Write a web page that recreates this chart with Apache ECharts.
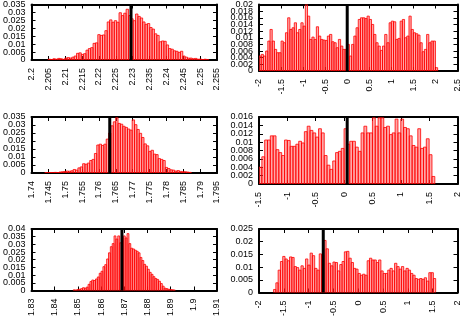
<!DOCTYPE html>
<html><head><meta charset="utf-8">
<script src="https://cdn.jsdelivr.net/npm/echarts@6/dist/echarts.min.js"></script>
<style>html,body{margin:0;padding:0;background:#fff}#c{width:462px;height:319px}</style>
</head><body><div id="c"></div>
<script>
// ---- data (histogram heights) ----
const p1Start = 2.2053, p1Bin = 0.0007;
const p1Heights = [0.0005,0.0003,0.0008,0.0005,0.001,0.0008,0.0004,0.0012,0.0015,0.0012,0.0018,0.0025,0.0042,0.0045,0.0035,0.004,0.0062,0.0072,0.0078,0.0105,0.0108,0.016,0.0155,0.0158,0.0185,0.024,0.0253,0.0238,0.0248,0.0238,0.0298,0.028,0.0295,0.032,0.028,0.026,0.0248,0.029,0.0275,0.0265,0.024,0.0225,0.023,0.0205,0.0195,0.0165,0.0155,0.0115,0.012,0.0118,0.0095,0.0072,0.0068,0.0058,0.0055,0.0048,0.0055,0.0025,0.0018,0.0012,0.0012,0.0008,0.001,0.0005,0.0006,0.0003,0.0005,0.0002];
const p1Marker = 2.2295;

const p2Start = -1.975, p2Bin = 0.05;
const p2Heights = [0.0045,0.005,0.0045,0.006,0.009,0.0125,0.009,0.0065,0.0055,0.0055,0.009,0.0085,0.0115,0.016,0.0125,0.013,0.0145,0.0115,0.0125,0.0145,0.0135,0.02,0.0165,0.0095,0.0102,0.0095,0.0133,0.0105,0.0095,0.0093,0.0092,0.0105,0.011,0.0088,0.0085,0.007,0.0095,0.0075,0.0065,0.0065,0.008,0.0045,0.008,0.0105,0.013,0.0155,0.016,0.016,0.0158,0.0165,0.0155,0.014,0.011,0.0085,0.0075,0.0062,0.0075,0.011,0.0085,0.0145,0.015,0.0148,0.0095,0.0098,0.015,0.0155,0.01,0.0105,0.0165,0.0125,0.0115,0.0112,0.0108,0.0085,0.0058,0.0065,0.011,0.0085,0.009,0.009,0.001];
const p2Marker = 0.0;

const p3Start = 1.7443, p3Bin = 0.0007;
const p3Heights = [0.0002,0.0002,0.0003,0.0002,0.0004,0.0003,0.0006,0.0008,0.0009,0.0012,0.0011,0.0014,0.0022,0.0018,0.0032,0.0038,0.0058,0.0055,0.0062,0.0078,0.0085,0.0122,0.0175,0.018,0.0172,0.018,0.0212,0.025,0.0295,0.032,0.0345,0.031,0.0305,0.0292,0.0285,0.0275,0.0268,0.0332,0.0302,0.0272,0.0248,0.0222,0.0182,0.017,0.0135,0.0142,0.0118,0.0115,0.009,0.0085,0.0078,0.0035,0.0028,0.002,0.0018,0.0012,0.0015,0.001,0.0008,0.0008,0.0006,0.0004];
const p3Marker = 1.7632;

const p4Start = -1.475, p4Bin = 0.05;
const p4Heights = [0.004,0.0065,0.0105,0.0105,0.0115,0.0115,0.0082,0.0075,0.0068,0.0105,0.0104,0.009,0.009,0.0095,0.0102,0.0098,0.0125,0.0138,0.0128,0.0122,0.0112,0.0132,0.0122,0.0068,0.0045,0.0035,0.0055,0.0075,0.0078,0.0085,0.0132,0.0095,0.0102,0.0102,0.0088,0.0078,0.0122,0.0138,0.0122,0.0122,0.0158,0.0138,0.0158,0.0158,0.0135,0.0138,0.0118,0.0122,0.0155,0.0122,0.0155,0.0135,0.0132,0.0115,0.0092,0.0088,0.0132,0.0085,0.0088,0.0108,0.007,0.0018];
const p4Marker = 0.055;

const p5Start = 1.8484, p5Bin = 0.0008;
const p5Heights = [0.0004,0.0003,0.0006,0.0008,0.0012,0.0018,0.0015,0.0022,0.004,0.0058,0.0068,0.0065,0.0075,0.0088,0.0112,0.0125,0.0155,0.0168,0.0205,0.0245,0.0285,0.0305,0.0355,0.0335,0.0355,0.031,0.0345,0.0355,0.0342,0.037,0.0305,0.0275,0.027,0.0262,0.0255,0.0245,0.0215,0.0195,0.017,0.0158,0.0138,0.0118,0.0105,0.009,0.0078,0.0072,0.006,0.0045,0.0028,0.0015,0.0012,0.0008,0.0006,0.0005,0.0003];
const p5Marker = 1.869;

const p6Start = -1.683, p6Bin = 0.046;
const p6Heights = [0.0012,0.0038,0.0088,0.0122,0.0142,0.0132,0.0125,0.014,0.0138,0.0102,0.0098,0.0088,0.0105,0.0095,0.0132,0.0108,0.0155,0.0145,0.0095,0.0088,0.0152,0.0148,0.0205,0.0172,0.0115,0.0105,0.012,0.0118,0.0085,0.011,0.0122,0.016,0.0162,0.0135,0.0118,0.0095,0.0092,0.0075,0.0068,0.0072,0.0068,0.0125,0.0135,0.0128,0.0128,0.0118,0.0128,0.0085,0.0075,0.0075,0.0088,0.0095,0.0085,0.0115,0.0102,0.0092,0.0102,0.0085,0.0095,0.0088,0.0075,0.0068,0.0055,0.0052,0.0055,0.0052,0.0058,0.0045,0.0078,0.0078,0.0055];
const p6Marker = -0.705;

// axis ranges and tick steps
const xMins = [2.2, -2, 1.74, -1.5, 1.83, -2];
const xMaxs = [2.255, 2.5, 1.795, 2, 1.91, 2];
const xSteps = [0.005, 0.5, 0.005, 0.5, 0.01, 0.5];
const yMaxs = [0.035, 0.02, 0.035, 0.016, 0.04, 0.025];
const ySteps = [0.005, 0.002, 0.005, 0.002, 0.005, 0.005];

// ---- layout ----
const grids = [
  {left: 29, top: 3, width: 188, height: 57},
  {left: 259, top: 3, width: 200, height: 68},
  {left: 29, top: 117, width: 188, height: 56},
  {left: 259, top: 117, width: 200, height: 67},
  {left: 29, top: 229, width: 188, height: 62},
  {left: 259, top: 229, width: 200, height: 67}
];
const hists = [
  [p1Start, p1Bin, p1Heights, p1Marker],
  [p2Start, p2Bin, p2Heights, p2Marker],
  [p3Start, p3Bin, p3Heights, p3Marker],
  [p4Start, p4Bin, p4Heights, p4Marker],
  [p5Start, p5Bin, p5Heights, p5Marker],
  [p6Start, p6Bin, p6Heights, p6Marker]
];

const FONT = 'Liberation Sans';
const lineStyle = {color: '#000', width: 2};
const tickStyle = {show: true, inside: true, length: 4, lineStyle: {color: '#000', width: 1}};
const xAxis = [], yAxis = [], series = [];
grids.forEach((g, k) => {
  const common = {min: xMins[k], max: xMaxs[k], interval: xSteps[k], gridIndex: k, type: 'value',
    splitLine: {show: false}};
  const xlab = parity => ({rotate: 90, fontSize: 9, fontFamily: FONT, color: '#000', margin: 8,
    formatter: (v, i) => (i % 2 === parity ? String(v) : '')});
  // bottom axis: frame, ticks, even labels
  xAxis.push(Object.assign({}, common, {position: 'bottom',
    axisLine: {show: true, onZero: false, lineStyle}, axisTick: tickStyle, axisLabel: xlab(0)}));
  // bottom axis: odd labels only
  xAxis.push(Object.assign({}, common, {position: 'bottom',
    axisLine: {show: false}, axisTick: {show: false}, axisLabel: xlab(1)}));
  // top mirror axis
  xAxis.push(Object.assign({}, common, {position: 'top',
    axisLine: {show: true, onZero: false, lineStyle}, axisTick: tickStyle, axisLabel: {show: false}}));

  const ycommon = {min: 0, max: yMaxs[k], interval: ySteps[k], gridIndex: k, type: 'value',
    splitLine: {show: false}};
  const ylab = parity => ({fontSize: 9, fontFamily: FONT, color: '#000', margin: 6,
    formatter: (v, i) => (i % 2 === parity ? String(v) : '')});
  // left axis: frame, ticks, even labels
  yAxis.push(Object.assign({}, ycommon, {position: 'left',
    axisLine: {show: true, onZero: false, lineStyle}, axisTick: tickStyle, axisLabel: ylab(0)}));
  // left axis: odd labels only
  yAxis.push(Object.assign({}, ycommon, {position: 'left',
    axisLine: {show: false}, axisTick: {show: false}, axisLabel: ylab(1)}));
  // right mirror axis
  yAxis.push(Object.assign({}, ycommon, {position: 'right',
    axisLine: {show: true, onZero: false, lineStyle}, axisTick: tickStyle, axisLabel: {show: false}}));

  const [start, bw, heights, marker] = hists[k];
  const data = heights.map((h, i) => [start + i * bw, h]);
  series.push({
    type: 'custom', xAxisIndex: 3 * k, yAxisIndex: 3 * k, silent: true, clip: true,
    data,
    renderItem: (params, api) => {
      const x = api.value(0), y = api.value(1);
      const p0 = api.coord([x - bw / 2, y]);
      const p1 = api.coord([x + bw / 2, 0]);
      return {type: 'rect', shape: {x: p0[0], y: p0[1], width: p1[0] - p0[0], height: p1[1] - p0[1]},
        style: {fill: 'rgba(255,60,60,0.45)', stroke: '#ff0000', lineWidth: 0.8}};
    }
  });
  series.push({
    type: 'line', xAxisIndex: 3 * k, yAxisIndex: 3 * k, silent: true, symbol: 'none',
    data: [[marker, 0], [marker, yMaxs[k]]],
    lineStyle: {color: '#000', width: 3}, z: 5
  });
});

const chart = echarts.init(document.getElementById('c'), null, {renderer: 'canvas'});
chart.setOption({animation: false, backgroundColor: '#fff', grid: grids, xAxis, yAxis, series});
</script></body></html>
